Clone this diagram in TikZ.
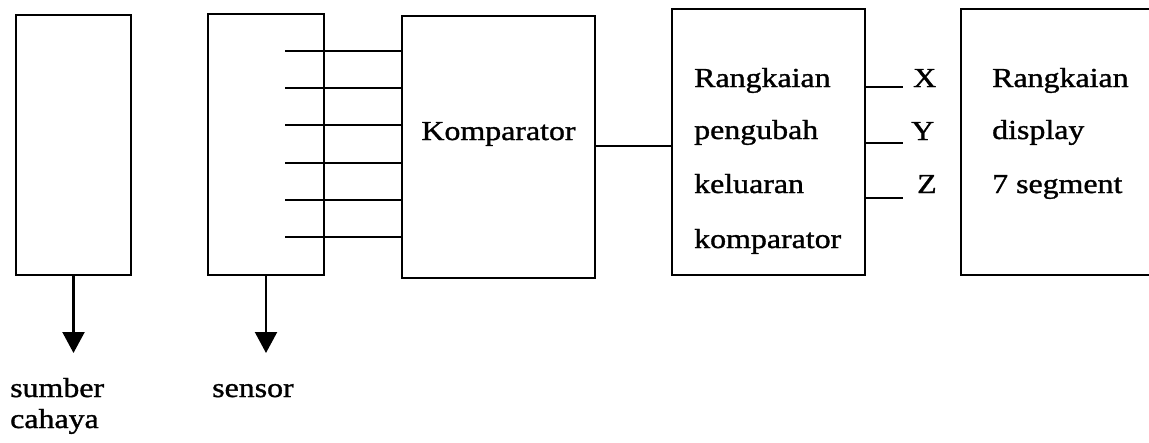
\documentclass[tikz,border=0pt]{standalone}
\usepackage{fontspec}
\setmainfont[FakeStretch=1.16,FakeBold=1.2]{Liberation Serif}
\usetikzlibrary{arrows.meta}
\begin{document}
\begin{tikzpicture}[x=1pt,y=-1pt,
  blk/.style={draw,line width=2.4pt,inner sep=0pt,outer sep=0pt},
  wire/.style={line width=2pt},
  thin/.style={line width=1.6pt},
  lbl/.style={inner sep=0pt,anchor=base west,font=\fontsize{27.5}{33}\selectfont},
  down/.style={line width=2.2pt,-{Triangle[width=22pt,length=21pt]}}]
\useasboundingbox (0,0) rectangle (1149,442);
\clip (0,0) rectangle (1149,442);
% blocks
\node[blk,minimum width=115pt,minimum height=260pt] (b1) at (73.5,145) {};
\node[blk,minimum width=116pt,minimum height=261pt] (b2) at (266,144.5) {};
\node[blk,minimum width=193pt,minimum height=262pt] (k) at (498.5,147) {};
\node[blk,minimum width=193pt,minimum height=266pt] (p) at (768.5,142) {};
\node[blk,minimum width=199pt,minimum height=266pt] (d) at (1060.5,142) {};
% texts
\node[lbl,anchor=base] (kt) at (498.5,140) {Komparator};
\node[lbl] (p1) at (694,87) {Rangkaian};
\node[lbl] (p2) at (694,139) {pengubah};
\node[lbl] (p3) at (694,193) {keluaran};
\node[lbl] (p4) at (694,248) {komparator};
\node[lbl] (d1) at (992,87) {Rangkaian};
\node[lbl] (d2) at (992,139) {display};
\node[lbl] (d3) at (992,193) {7 segment};
\node[lbl] (lx) at (913,87) {X};
\node[lbl] (ly) at (911,140) {Y};
\node[lbl] (lz) at (917,193) {Z};
\node[lbl] (t1) at (10,397) {sumber};
\node[lbl] (t2) at (10,428) {cahaya};
\node[lbl] (t3) at (212,397) {sensor};
% sensor lines
\foreach \i/\yy in {1/51,2/88,3/125,4/163,5/200,6/237}{
  \coordinate (s\i) at (285,\yy);
  \draw[wire] (s\i) -- (s\i -| k.west);
}
% komparator to converter
\coordinate (kc) at (0,146);
\draw[thin] (kc -| k.east) -- (kc -| p.west);
% outputs
\coordinate (ox) at (903,87);
\coordinate (oy) at (903,143);
\coordinate (oz) at (903,198);
\draw[thin] (ox -| p.east) -- (ox);
\draw[thin] (oy -| p.east) -- (oy);
\draw[thin] (oz -| p.east) -- (oz);
% arrows
\coordinate (a1) at (73.5,353);
\coordinate (a2) at (266,353);
\draw[down] (b1.south) -- (a1);
\draw[down] (b2.south) -- (a2);
\end{tikzpicture}
\end{document}
